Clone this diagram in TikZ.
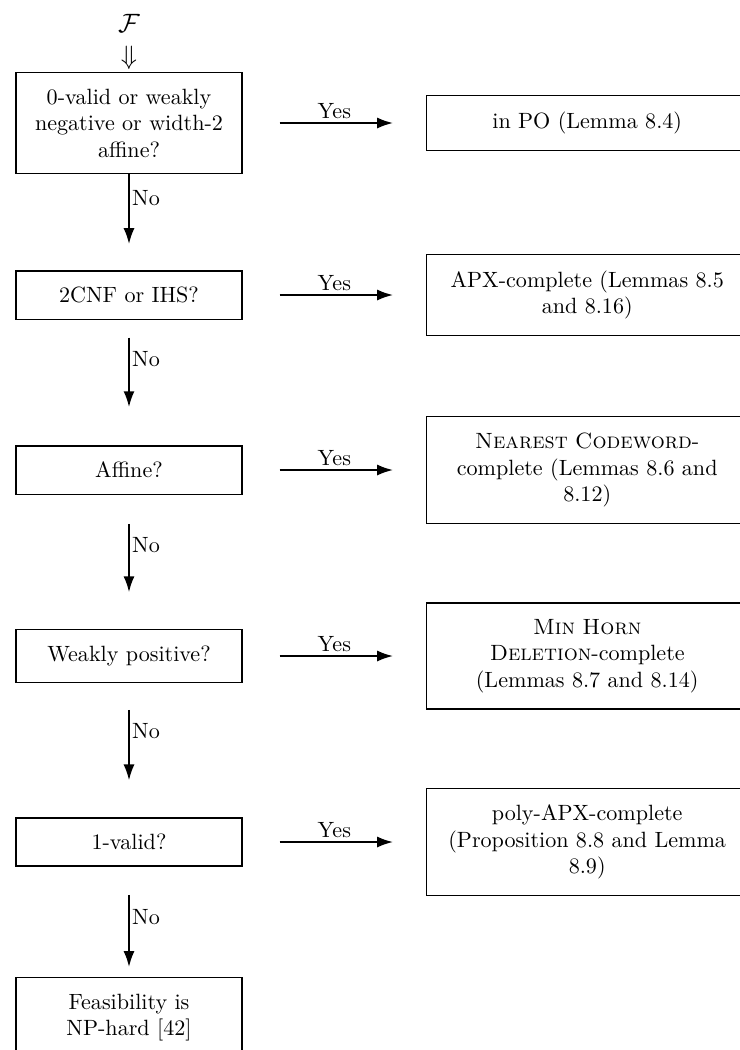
\documentclass[tikz,border=0pt]{standalone}
\usepackage{amsmath,amssymb}
\usetikzlibrary{arrows.meta}

\tikzset{
  test/.style={draw, semithick, align=center, text width=87.7pt, inner sep=7.3pt},
  result/.style={draw, semithick, align=center, text width=130.7pt, inner sep=7.3pt, anchor=west},
  flow/.style={line width=0.9pt, -{Latex[length=7.2pt,width=5pt]}},
  yes/.style={flow, shorten <=16.7pt, shorten >=14.9pt},
  yeslabel/.style={above, inner sep=1.5pt},
  nolabel/.style={right, inner sep=1pt},
}

\begin{document}
\begin{tikzpicture}[x=0.4525pt, y=0.4525pt]
  \useasboundingbox (0,0) rectangle (739,-1050);

  \node[font=\large] (fam) at (129,-23) {$\mathcal{F}$};
  \node[font=\large] (darr) at (129,-58) {$\Downarrow$};

  \node[test] (q1) at (129,-123) {0-valid or weakly\\negative or width-2\\affine?};
  \node[test] (q2) at (129,-295) {2CNF or IHS?};
  \node[test] (q3) at (129,-470) {Affine?};
  \node[test] (q4) at (129,-656) {Weakly positive?};
  \node[test] (q5) at (129,-842) {1-valid?};
  \node[test, anchor=north] (q6) at (129,-977) {Feasibility is\\NP-hard [42]};

  \node[result] (r1) at (426,-123) {in PO (Lemma 8.4)};
  \node[result] (r2) at (426,-295) {APX-complete (Lemmas 8.5\\and 8.16)};
  \node[result] (r3) at (426,-470) {\textsc{Nearest Codeword}-\\complete (Lemmas 8.6 and\\8.12)};
  \node[result] (r4) at (426,-656) {\textsc{Min Horn}\\\textsc{Deletion}-complete\\(Lemmas 8.7 and 8.14)};
  \node[result] (r5) at (426,-842) {poly-APX-complete\\(Proposition 8.8 and Lemma\\8.9)};

  \draw[yes] (q1) -- node[yeslabel] {Yes} (r1);
  \draw[yes] (q2) -- node[yeslabel] {Yes} (r2);
  \draw[yes] (q3) -- node[yeslabel] {Yes} (r3);
  \draw[yes] (q4) -- node[yeslabel] {Yes} (r4);
  \draw[yes] (q5) -- node[yeslabel] {Yes} (r5);

  \draw[flow, shorten >=11.8pt] (q1) -- node[nolabel, pos=0.25] {No} (q2);
  \draw[flow, shorten <=8.1pt, shorten >=17.2pt] (q2) -- node[nolabel, pos=0.31] {No} (q3);
  \draw[flow, shorten <=13.1pt, shorten >=16.7pt] (q3) -- node[nolabel, pos=0.375] {No} (q4);
  \draw[flow, shorten <=12.2pt, shorten >=16.7pt] (q4) -- node[nolabel, pos=0.36] {No} (q5);
  \draw[flow, shorten <=12.7pt, shorten >=4.5pt] (q5) -- node[nolabel, pos=0.46] {No} (q6);
\end{tikzpicture}
\end{document}
